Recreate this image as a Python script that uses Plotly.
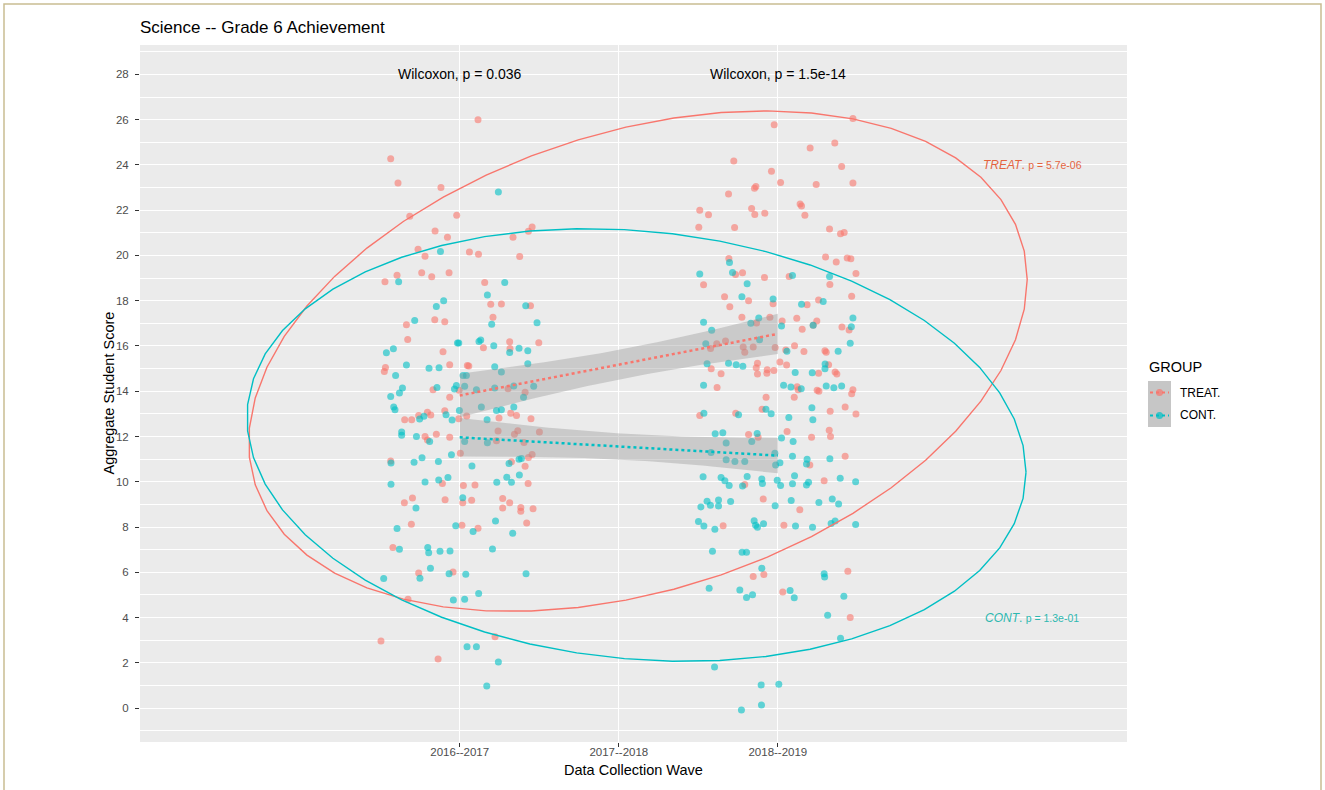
import numpy as np
import plotly.graph_objects as go

# ---------------- data ----------------
waves = ["2016--2017", "2017--2018", "2018--2019"]
groups = ["TREAT.", "CONT."]
wilcoxon_labels = ["Wilcoxon, p = 0.036", "Wilcoxon, p = 1.5e-14"]
group_p_labels = ["p = 5.7e-06", "p = 1.3e-01"]

# jittered x positions (wave 1 centred on 1, wave 2 centred on 3) and scores
treat_w1_x = [1.115, 0.566, 0.612, 0.882, 0.686, 0.981, 0.845, 0.923, 1.335, 1.455, 1.432, 0.738, 0.782, 1.061, 1.118,
              1.377, 0.530, 0.606, 0.761, 0.824, 0.933, 1.157, 1.195, 1.262, 1.445, 0.665, 0.843, 0.906, 1.209, 0.673,
              1.149, 1.314, 1.316, 1.497, 0.895, 0.533, 0.526, 0.937, 1.048, 1.057, 0.832, 0.996, 0.937, 1.304, 1.411,
              0.654, 0.698, 0.742, 0.797, 0.818, 0.906, 1.044, 0.994, 1.247, 1.321, 1.357, 1.448, 0.782, 0.853, 0.937,
              1.241, 1.344, 1.365, 1.501, 0.797, 1.231, 1.404, 0.566, 1.004, 1.325, 1.432, 1.455, 1.411, 0.891, 1.023,
              1.096, 1.430, 0.652, 0.703, 0.908, 1.019, 1.075, 1.270, 1.314, 1.270, 1.384, 1.384, 1.461, 0.696, 1.014,
              1.115, 1.421, 0.580, 0.742, 0.958, 0.675, 0.505, 0.864, 1.222]
treat_w1_y = [26.0, 24.27, 23.2, 23.0, 21.73, 21.78, 21.08, 20.8, 20.8, 21.26, 21.07, 20.27, 19.96, 20.15, 20.05,
              19.95, 18.84, 19.13, 19.24, 19.06, 19.24, 18.81, 17.84, 17.86, 17.78, 16.94, 17.16, 17.07, 17.27, 16.29,
              15.92, 16.19, 15.89, 16.14, 15.75, 15.05, 14.87, 15.17, 15.14, 15.12, 14.07, 14.04, 13.73, 14.11, 13.95,
              12.74, 12.74, 12.93, 13.07, 12.95, 13.14, 12.91, 12.78, 12.82, 13.03, 12.93, 12.78, 12.0, 12.1, 11.97,
              12.24, 12.1, 12.25, 12.2, 11.85, 11.81, 11.73, 10.92, 11.26, 10.88, 11.07, 11.2, 10.69, 9.92, 9.83,
              9.86, 9.92, 9.07, 9.28, 9.2, 9.07, 9.18, 9.26, 9.07, 8.84, 8.86, 8.7, 8.81, 8.12, 8.08,
              7.95, 8.18, 7.1, 5.97, 6.01, 4.81, 2.96, 2.17, 3.15]

cont_w1_x = [1.243, 0.879, 0.616, 1.283, 1.174, 0.899, 0.853, 1.415, 0.717, 1.201, 1.486, 0.986, 0.994, 1.121, 1.132,
             1.214, 1.314, 1.373, 1.428, 0.539, 0.583, 1.428, 0.665, 0.807, 0.870, 1.220, 1.262, 0.597, 1.021, 1.042,
             0.640, 0.621, 0.566, 0.857, 0.967, 0.979, 1.031, 1.105, 1.220, 1.340, 1.401, 1.465, 0.585, 0.593, 0.748,
             0.775, 0.914, 0.952, 0.998, 1.136, 1.172, 1.231, 1.262, 1.340, 0.635, 0.635, 0.728, 0.811, 1.031, 1.174,
             0.568, 0.713, 0.763, 0.866, 0.948, 1.077, 1.310, 1.373, 1.388, 0.568, 0.782, 0.868, 0.926, 1.233, 1.296,
             1.325, 1.375, 0.725, 1.019, 0.606, 0.975, 1.084, 1.225, 1.333, 0.621, 0.799, 0.805, 0.876, 0.939, 1.206,
             0.816, 0.750, 0.933, 1.038, 1.417, 0.522, 1.119, 0.960, 1.031, 1.046, 1.105, 1.243, 1.170]
cont_w1_y = [22.8, 20.18, 18.84, 18.81, 18.25, 18.0, 17.75, 17.78, 17.13, 16.96, 17.03, 16.13, 16.13, 16.2, 16.26,
             16.01, 15.71, 15.9, 15.79, 15.7, 15.88, 15.21, 15.16, 15.02, 15.04, 15.08, 14.85, 14.7, 14.7, 14.7,
             14.14, 13.92, 13.77, 14.17, 14.1, 14.25, 14.22, 14.07, 14.14, 14.23, 13.73, 14.22, 13.3, 13.18, 12.77,
             12.9, 12.96, 12.73, 13.15, 13.3, 12.74, 13.15, 13.18, 13.3, 12.2, 12.05, 12.0, 11.78, 11.78, 11.72,
             10.83, 10.86, 11.06, 10.9, 11.19, 10.7, 10.81, 10.99, 11.03, 9.89, 9.99, 10.08, 10.19, 9.98, 10.2,
             9.98, 10.3, 8.84, 9.29, 7.93, 8.06, 7.8, 8.27, 7.73, 7.02, 7.1, 6.86, 6.93, 6.94, 7.03,
             6.18, 5.74, 5.93, 5.91, 5.93, 5.72, 5.06, 4.78, 4.81, 2.71, 2.71, 2.03, 0.98]

treat_w2_x = [3.472, 2.977, 3.358, 3.203, 2.723, 3.401, 2.960, 3.017, 3.241, 3.472, 2.690, 2.853, 2.862, 2.509, 2.564,
              2.835, 2.855, 2.918, 3.140, 3.149, 3.170, 2.503, 2.728, 3.325, 3.394, 3.417, 3.300, 3.367, 3.436, 3.459,
              2.692, 2.734, 2.778, 2.916, 3.071, 3.491, 2.533, 3.327, 2.665, 2.816, 2.970, 3.464, 2.698, 3.184, 3.256,
              2.774, 2.950, 2.866, 3.027, 3.119, 3.245, 3.222, 3.403, 3.448, 3.153, 2.577, 2.616, 2.671, 2.782, 2.792,
              2.845, 2.983, 3.050, 3.105, 3.164, 3.296, 3.304, 2.581, 2.872, 2.864, 2.933, 2.931, 2.975, 2.872, 3.013,
              3.055, 2.643, 3.256, 3.319, 3.360, 3.371, 2.618, 3.121, 3.128, 3.247, 3.258, 3.472, 3.464, 2.926, 3.103,
              3.423, 2.509, 2.735, 2.901, 3.329, 3.491, 3.323, 3.331, 2.816, 2.876, 3.058, 3.212, 3.201, 3.423, 2.792,
              3.291, 2.908, 3.138, 2.656, 3.038, 2.845, 2.912, 3.440, 3.031, 3.455]
treat_w2_y = [26.05, 25.78, 24.97, 24.75, 24.17, 23.93, 23.72, 23.22, 23.14, 23.2, 22.72, 22.97, 23.05, 22.0, 21.8,
              22.08, 21.81, 21.87, 22.27, 22.18, 21.78, 21.25, 21.23, 21.17, 20.96, 21.02, 19.93, 19.71, 19.89, 19.86,
              19.87, 19.16, 19.24, 19.03, 19.07, 19.2, 18.71, 18.72, 18.17, 18.0, 17.87, 18.2, 17.73, 17.82, 18.03,
              17.27, 17.27, 17.02, 17.1, 17.23, 17.1, 16.92, 16.84, 16.71, 16.74, 15.89, 16.1, 16.22, 15.95, 15.72,
              15.95, 15.93, 15.82, 16.01, 15.76, 15.79, 15.72, 14.99, 15.24, 15.04, 14.95, 14.8, 14.92, 14.76, 15.29,
              15.16, 14.77, 14.8, 15.17, 14.85, 14.76, 14.17, 14.2, 14.07, 14.04, 14.0, 14.07, 13.89, 13.73, 13.73,
              13.3, 12.93, 13.03, 13.2, 13.12, 12.99, 12.28, 12.0, 12.09, 11.97, 12.22, 11.97, 10.74, 11.13, 9.88,
              10.05, 9.24, 8.76, 8.06, 8.08, 5.81, 5.9, 6.04, 5.13, 4.0]

cont_w2_x = [2.696, 2.509, 2.715, 3.092, 3.325, 2.807, 2.774, 2.970, 3.149, 3.285, 2.880, 2.533, 2.830, 3.023, 3.222,
             3.472, 3.462, 2.584, 2.547, 2.885, 3.057, 3.379, 3.455, 2.555, 2.690, 2.738, 2.780, 3.109, 3.216, 3.297,
             3.296, 2.533, 3.036, 3.082, 3.147, 3.304, 3.352, 3.401, 3.214, 2.535, 2.753, 2.925, 2.958, 3.069, 3.220,
             2.606, 2.654, 2.870, 3.023, 2.675, 2.836, 3.096, 2.580, 2.981, 2.675, 2.730, 2.792, 2.986, 3.013, 3.092,
             3.184, 3.180, 3.327, 2.530, 2.643, 2.667, 2.694, 2.778, 2.807, 2.899, 2.903, 2.996, 3.017, 3.092, 3.105,
             3.180, 3.193, 3.392, 3.489, 2.516, 2.555, 2.576, 2.627, 2.627, 2.703, 2.983, 3.084, 3.258, 3.342, 3.382,
             2.501, 2.535, 2.604, 2.851, 2.860, 2.872, 2.910, 3.111, 3.218, 3.335, 3.360, 3.489, 2.589, 2.775, 2.803,
             2.899, 3.291, 3.294, 2.568, 2.761, 2.841, 2.803, 3.077, 3.103, 3.415, 3.313, 3.394, 2.602, 2.895, 3.006,
             2.897, 2.771]
cont_w2_y = [19.69, 19.18, 19.25, 19.11, 19.07, 18.75, 18.17, 18.08, 17.84, 17.96, 17.24, 17.05, 17.0, 16.88, 16.92,
             17.24, 16.85, 16.7, 16.1, 16.27, 15.77, 15.77, 16.12, 15.21, 15.24, 15.17, 15.1, 14.83, 14.82, 15.2,
             14.99, 14.27, 14.27, 14.19, 14.11, 14.23, 14.15, 14.23, 13.27, 13.03, 12.96, 13.2, 13.0, 12.84, 12.74,
             12.12, 12.17, 12.13, 11.93, 11.71, 11.78, 11.78, 11.29, 11.26, 10.97, 10.9, 10.9, 10.74, 10.84, 11.13,
             11.0, 10.78, 11.02, 10.22, 10.19, 10.04, 9.83, 9.81, 10.23, 10.12, 9.92, 10.07, 9.83, 9.91, 10.26,
             9.86, 9.98, 10.16, 10.0, 8.89, 9.14, 8.96, 9.19, 8.93, 9.13, 8.94, 9.17, 9.08, 9.24, 9.02,
             8.24, 8.05, 7.9, 8.28, 8.08, 7.99, 8.14, 8.04, 7.99, 8.15, 8.27, 8.11, 6.93, 6.88, 6.88,
             6.18, 5.93, 5.79, 5.29, 5.22, 5.01, 4.88, 5.19, 4.87, 4.94, 4.1, 3.08, 1.81, 1.02, 1.05,
             0.13, -0.09]

colors = {"TREAT.": "#F8766D", "CONT.": "#00BFC4"}
label_colors = {"TREAT.": "#E4643F", "CONT.": "#2DB8B0"}

group_data = {
    "TREAT.": (treat_w1_x + treat_w2_x, treat_w1_y + treat_w2_y, [1] * len(treat_w1_y) + [3] * len(treat_w2_y)),
    "CONT.": (cont_w1_x + cont_w2_x, cont_w1_y + cont_w2_y, [1] * len(cont_w1_y) + [3] * len(cont_w2_y)),
}


# ---------------- helpers (stat_ellipse type "t", geom_smooth lm) ----------------
def cov_trob(X, nu=5, maxit=25, tol=0.01):
    n, p = X.shape
    wt = np.ones(n)
    loc = X.mean(axis=0)
    w = np.sqrt(wt)
    Xc = X - loc
    for _ in range(maxit):
        w0 = w
        Xc = X - loc
        A = np.sqrt(w / w.sum())[:, None] * Xc
        _, d, Vt = np.linalg.svd(A, full_matrices=False)
        wX = Xc @ Vt.T @ np.diag(1 / d)
        Q = (wX ** 2).sum(axis=1)
        w = wt * (nu + p) / (nu + Q)
        loc = (w[:, None] * X).sum(axis=0) / w.sum()
        if np.all(np.abs(w - w0) < tol):
            break
    S = np.sqrt(w)[:, None] * Xc
    return loc, S.T @ S / wt.sum()


def ellipse(xv, yv, level=0.95, segments=51):
    X = np.column_stack([xv, yv]).astype(float)
    center, shape = cov_trob(X)
    dfd = len(xv) - 1
    f = dfd / 2 * ((1 - level) ** (-2 / dfd) - 1)
    radius = np.sqrt(2 * f)
    R = np.linalg.cholesky(shape).T
    ang = np.arange(segments + 1) * 2 * np.pi / segments
    circ = np.column_stack([np.cos(ang), np.sin(ang)])
    e = center + radius * (circ @ R)
    return e[:, 0], e[:, 1]


def t975(df):
    z = 1.959964
    return z + (z ** 3 + z) / (4 * df) + (5 * z ** 5 + 16 * z ** 3 + 3 * z) / (96 * df ** 2)


def lm_fit(xv, yv, n_out=80):
    xv = np.asarray(xv, float)
    yv = np.asarray(yv, float)
    n = len(xv)
    xb = xv.mean()
    sxx = ((xv - xb) ** 2).sum()
    b = ((xv - xb) * (yv - yv.mean())).sum() / sxx
    a = yv.mean() - b * xb
    resid = yv - (a + b * xv)
    s = np.sqrt((resid ** 2).sum() / (n - 2))
    xs = np.linspace(xv.min(), xv.max(), n_out)
    fit = a + b * xs
    se = s * np.sqrt(1 / n + (xs - xb) ** 2 / sxx)
    tq = t975(n - 2)
    return xs, fit, fit - tq * se, fit + tq * se


# ---------------- figure ----------------
fig = go.Figure()

for g in groups:
    xs, ys, _ = group_data[g]
    fig.add_trace(go.Scatter(x=xs, y=ys, mode="markers", name=g, showlegend=False,
                             marker=dict(color=colors[g], size=7, opacity=0.6, line=dict(width=0))))

for g in groups:
    _, ys, wv = group_data[g]
    xs, fit, lo, hi = lm_fit(wv, ys)
    fig.add_trace(go.Scatter(x=np.concatenate([xs, xs[::-1]]), y=np.concatenate([hi, lo[::-1]]),
                             fill="toself", fillcolor="rgba(153,153,153,0.4)", line=dict(width=0),
                             mode="lines", showlegend=False, hoverinfo="skip"))
    fig.add_trace(go.Scatter(x=xs, y=fit, mode="lines", showlegend=False,
                             line=dict(color=colors[g], width=2.5, dash="dot")))

for g in groups:
    _, ys, wv = group_data[g]
    ex, ey = ellipse(wv, ys)
    fig.add_trace(go.Scatter(x=ex, y=ey, mode="lines", showlegend=False,
                             line=dict(color=colors[g], width=1.4)))

FONT = "Liberation Sans, Arial, sans-serif"
annotations = []
for i, txt in enumerate(wilcoxon_labels):
    annotations.append(dict(x=[1, 3][i], y=28, xref="x", yref="y", text=txt, showarrow=False,
                            xanchor="center", yanchor="middle",
                            font=dict(family=FONT, size=14, color="black")))
for g, yv, ptxt in [("TREAT.", 24.0, group_p_labels[0]), ("CONT.", 4.0, group_p_labels[1])]:
    annotations.append(dict(x=4.6, y=yv, xref="x", yref="y", showarrow=False, xanchor="center", yanchor="middle",
                            text="<i>" + g.replace(".", "") + "</i>. <span style='font-size:10.5px'>" + ptxt + "</span>",
                            font=dict(family=FONT, size=12, color=label_colors[g])))

L, T, W, H = 140, 45, 987, 697


def px_x(p):
    return (p - L) / W


def px_y(p):
    return (T + H - p) / H


# axis titles
annotations.append(dict(x=px_x(108), y=0.5, xref="paper", yref="paper", text="Aggregate Student Score",
                        textangle=-90, showarrow=False, xanchor="center", yanchor="middle",
                        font=dict(family=FONT, size=14.5, color="black")))
annotations.append(dict(x=px_x(633), y=px_y(770), xref="paper", yref="paper", text="Data Collection Wave",
                        showarrow=False, xanchor="center", yanchor="middle",
                        font=dict(family=FONT, size=14.5, color="black")))

# legend (ggplot-style keys)
shapes = []
annotations.append(dict(x=px_x(1147), y=px_y(367), xref="paper", yref="paper", text="GROUP", showarrow=False,
                        xanchor="left", yanchor="middle", font=dict(family=FONT, size=14.5, color="black")))
for i, g in enumerate(groups):
    top = 381 + i * 23
    shapes.append(dict(type="rect", xref="paper", yref="paper", x0=px_x(1148), x1=px_x(1171),
                       y0=px_y(top), y1=px_y(top + 23), fillcolor="#C6C6C6", line=dict(width=0), layer="above"))
    cy = top + 11.5
    shapes.append(dict(type="line", xref="paper", yref="paper", x0=px_x(1150), x1=px_x(1169),
                       y0=px_y(cy), y1=px_y(cy), line=dict(color=colors[g], width=2, dash="dot"), layer="above"))
    shapes.append(dict(type="circle", xref="paper", yref="paper", xsizemode="pixel", ysizemode="pixel",
                       xanchor=px_x(1159.5), yanchor=px_y(cy), x0=-3.5, x1=3.5, y0=-3.5, y1=3.5,
                       fillcolor=colors[g], opacity=0.7, line=dict(width=0), layer="above"))
    annotations.append(dict(x=px_x(1178), y=px_y(cy), xref="paper", yref="paper", text=g, showarrow=False,
                            xanchor="left", yanchor="middle", font=dict(family=FONT, size=12, color="black")))

# outer frame
shapes.append(dict(type="rect", xref="paper", yref="paper", x0=px_x(4), x1=px_x(1321), y0=px_y(800), y1=px_y(4),
                   line=dict(color="#C9BD92", width=1.5), fillcolor="rgba(0,0,0,0)", layer="above"))

fig.update_layout(
    width=1325, height=790,
    margin=dict(l=L, r=1325 - L - W, t=T, b=790 - T - H),
    paper_bgcolor="white", plot_bgcolor="#EBEBEB",
    showlegend=False,
    title=dict(text="Science -- Grade 6 Achievement", x=px_x(140), xref="paper", xanchor="left",
               y=1 - 27 / 790, yref="container", yanchor="middle",
               font=dict(family=FONT, size=17, color="black")),
    annotations=annotations, shapes=shapes,
    xaxis=dict(range=[-1.01, 5.195], tickvals=[1, 2, 3], ticktext=waves, showgrid=True, gridcolor="white",
               gridwidth=1.2, zeroline=False, ticks="outside", ticklen=4, tickcolor="#333333",
               ticklabelstandoff=-5,
               tickfont=dict(family=FONT, size=11.5, color="#4D4D4D"), showline=False),
    yaxis=dict(range=[-1.5, 29.3], tick0=0, dtick=2, showgrid=True, gridcolor="white", gridwidth=1.2,
               zeroline=False, ticks="outside", ticklen=4, tickcolor="#333333", ticklabelstandoff=4,
               tickfont=dict(family=FONT, size=11.5, color="#4D4D4D"), showline=False,
               minor=dict(tick0=1, dtick=2, showgrid=True, gridcolor="white", gridwidth=0.6, ticks="")),
)

fig.write_html("out.html", config={"displayModeBar": False},
               post_script="document.body.style.margin='0px';")
